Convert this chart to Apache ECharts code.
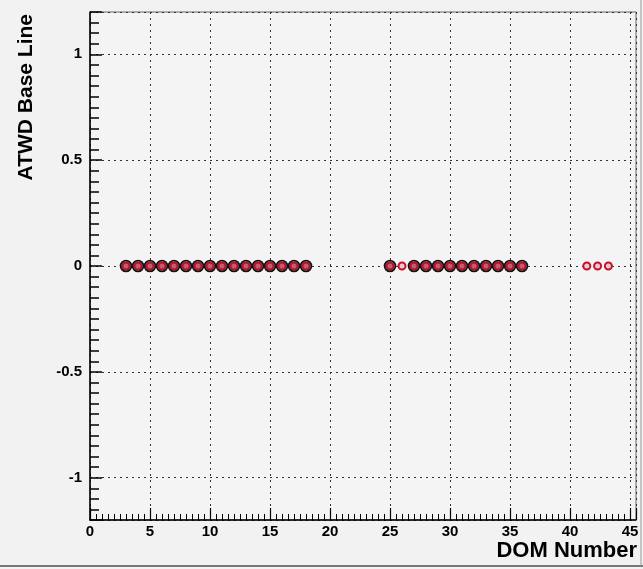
<!DOCTYPE html>
<html>
<head>
<meta charset="utf-8">
<script src="https://cdn.jsdelivr.net/npm/echarts@6/dist/echarts.min.js"></script>
<style>
  html, body { margin: 0; padding: 0; background: #f2f2f2; }
  #chart { width: 643px; height: 569px; }
</style>
</head>
<body>
<div id="chart"></div>
<script>
// DOM numbers with a black open marker (red marker underneath)
var blackDoms = [3, 4, 5, 6, 7, 8, 9, 10, 11, 12, 13, 14, 15, 16, 17, 18,
  25, 27, 28, 29, 30, 31, 32, 33, 34, 35, 36];
var blackBase = [0, 0, 0, 0, 0, 0, 0, 0, 0, 0, 0, 0, 0, 0, 0, 0,
  0, 0, 0, 0, 0, 0, 0, 0, 0, 0, 0];
// DOM numbers with the red marker
var redDoms = [3, 4, 5, 6, 7, 8, 9, 10, 11, 12, 13, 14, 15, 16, 17, 18,
  25, 26, 27, 28, 29, 30, 31, 32, 33, 34, 35, 36, 41.4, 42.3, 43.2];
var redBase = [0, 0, 0, 0, 0, 0, 0, 0, 0, 0, 0, 0, 0, 0, 0, 0,
  0, 0, 0, 0, 0, 0, 0, 0, 0, 0, 0, 0, 0, 0, 0];

var xMin = 0, xMax = 45.5;
var yMin = -1.2, yMax = 1.2;

var chart = echarts.init(document.getElementById("chart"));
var font = "Liberation Sans, Arial, sans-serif";
var gridLine = { show: true, lineStyle: { color: "#333", width: 1, type: [2, 4] } };

function pairs(xs, ys) {
  var out = [];
  for (var i = 0; i < xs.length; i++) out.push([xs[i], ys[i]]);
  return out;
}

var option = {
  backgroundColor: "#f2f2f2",
  animation: false,
  grid: {
    left: 90, right: 7, top: 12, bottom: 49,
    show: true, borderColor: "#666", borderWidth: 1,
    backgroundColor: "#f4f4f4"
  },
  xAxis: [
    {
      type: "value", min: xMin, max: xMax, interval: 5,
      axisLine: { show: true, onZero: false, lineStyle: { color: "#000", width: 1.5 } },
      axisTick: { inside: true, length: 12, lineStyle: { color: "#000", width: 1.2 } },
      axisLabel: {
        margin: 4, color: "#000", fontFamily: font, fontWeight: "bold", fontSize: 15,
        formatter: function (v) { return v % 5 === 0 ? String(v) : ""; }
      },
      splitLine: gridLine
    },
    {
      type: "value", min: xMin, max: xMax, interval: 0.5, position: "bottom",
      axisLine: { show: false, onZero: false },
      axisTick: { inside: true, length: 6, lineStyle: { color: "#000", width: 1 } },
      axisLabel: { show: false },
      splitLine: { show: false }
    }
  ],
  yAxis: [
    {
      type: "value", min: yMin, max: yMax, splitNumber: 5,
      axisLine: { show: true, onZero: false, lineStyle: { color: "#000", width: 1.5 } },
      axisTick: { inside: true, length: 12, lineStyle: { color: "#000", width: 1.5 } },
      axisLabel: {
        margin: 8, color: "#000", fontFamily: font, fontWeight: "bold", fontSize: 15,
        formatter: function (v) {
          var r = Math.round(v * 2) / 2;
          return Math.abs(r - v) < 1e-6 ? String(r) : "";
        }
      },
      splitLine: gridLine
    },
    {
      type: "value", min: yMin, max: yMax, interval: 0.05, position: "left", offset: 0,
      axisLine: { show: false, onZero: false },
      axisTick: { inside: true, length: 9, lineStyle: { color: "#000", width: 1.5 } },
      axisLabel: { show: false },
      splitLine: { show: false }
    }
  ],
  series: [
    {
      type: "scatter",
      data: pairs(redDoms, redBase),
      symbol: "circle",
      symbolSize: 7,
      itemStyle: { color: "#f0c8cf", borderColor: "#c8102e", borderWidth: 2, opacity: 1 },
      z: 3
    },
    {
      type: "scatter",
      data: pairs(blackDoms, blackBase),
      symbol: "circle",
      symbolSize: 11,
      itemStyle: { color: "rgba(160,20,40,0.6)", borderColor: "#111", borderWidth: 1.6, opacity: 1 },
      z: 4
    }
  ],
  graphic: [
    {
      type: "text", x: 26, y: 14, rotation: Math.PI / 2,
      style: {
        text: "ATWD Base Line", fill: "#000", font: "bold 21px Liberation Sans, Arial, sans-serif",
        align: "right", verticalAlign: "middle"
      }
    },
    {
      type: "text", x: 637, y: 551,
      style: {
        text: "DOM Number", fill: "#000", font: "bold 22px Liberation Sans, Arial, sans-serif",
        align: "right", verticalAlign: "middle"
      }
    },
    {
      type: "line", shape: { x1: 0, y1: 566, x2: 643, y2: 566 },
      style: { stroke: "#777", lineWidth: 2 }
    },
    {
      type: "line", shape: { x1: 641, y1: 0, x2: 641, y2: 566 },
      style: { stroke: "#999", lineWidth: 1 }
    }
  ]
};

chart.setOption(option);
</script>
</body>
</html>
